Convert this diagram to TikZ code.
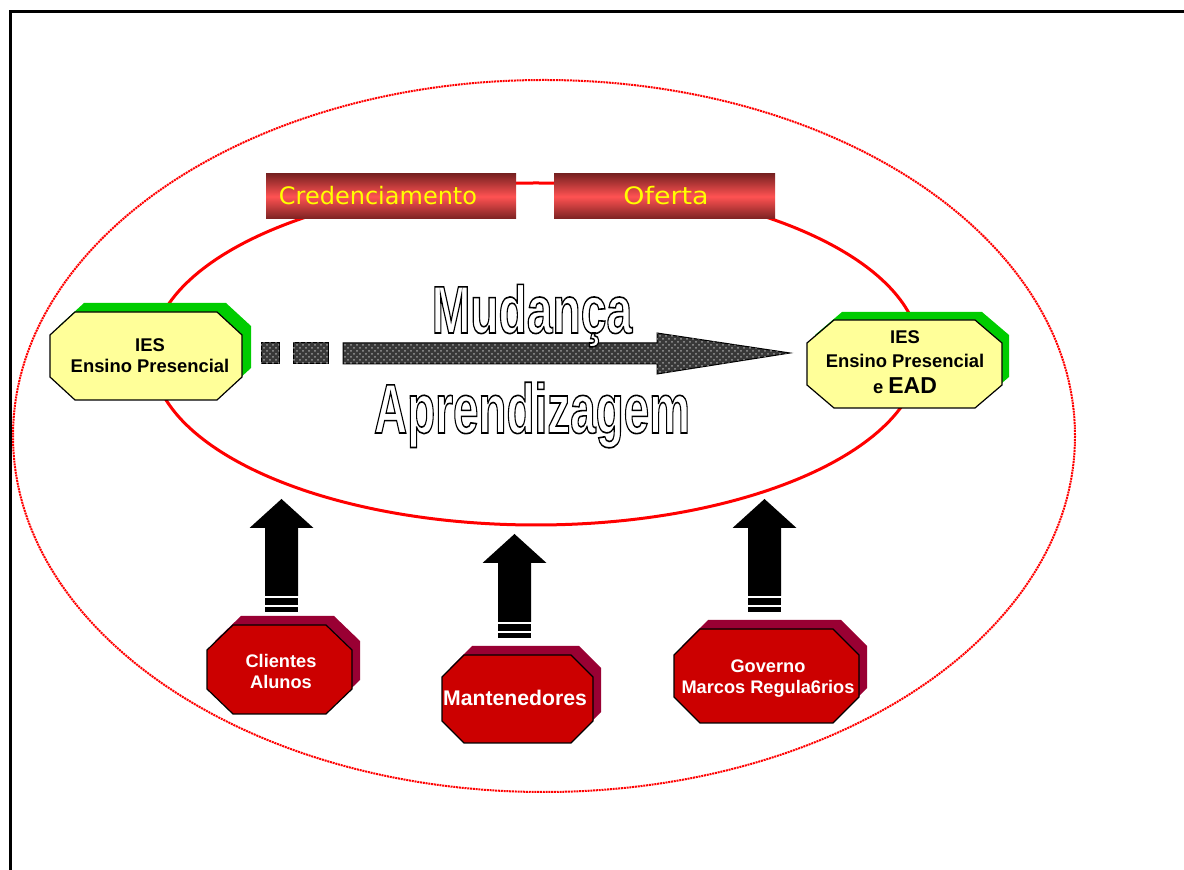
\documentclass[tikz,border=0pt]{standalone}
\usepackage{fontspec}
\usepackage{graphicx}
\setmainfont{Liberation Sans}
\newfontfamily\barfont{DejaVu Sans}
\usetikzlibrary{patterns}

\definecolor{ringred}{HTML}{FF0000}
\definecolor{paleyellow}{HTML}{FFFF99}
\definecolor{leafgreen}{HTML}{00CC00}
\definecolor{stopred}{HTML}{CC0000}
\definecolor{wine}{HTML}{990033}
\definecolor{bardark}{HTML}{7A2222}
\definecolor{barlight}{HTML}{FF5252}
\definecolor{labelyellow}{HTML}{FFFF00}

% octagon: style, x1, y1, x2, y2, corner cut x, corner cut y
\newcommand\octagonpath[7]{%
  \path[#1] ({#2+#6},#3) -- ({#4-#6},#3) -- (#4,{#3+#7}) -- (#4,{#5-#7})
    -- ({#4-#6},#5) -- ({#2+#6},#5) -- (#2,{#5-#7}) -- (#2,{#3+#7}) -- cycle;}

% striped block arrow pointing up: centre x, tip y, shaft bottom y
\newcommand\blockarrow[3]{%
  \fill[black] (#1,#2) -- ({#1+32},{#2+29}) -- ({#1+16.5},{#2+29}) -- ({#1+16.5},#3)
    -- ({#1-16.5},#3) -- ({#1-16.5},{#2+29}) -- ({#1-32},{#2+29}) -- cycle;
  \fill[black] ({#1-16.5},{#3+2}) rectangle ({#1+16.5},{#3+9});
  \fill[black] ({#1-16.5},{#3+11}) rectangle ({#1+16.5},{#3+16});}

% white letters with a black outline
\newcommand\hollowtext[1]{\special{pdf:literal direct 1 g 0 G 2 Tr 0.8 w}#1\special{pdf:literal direct 0 Tr 0 g}}

\begin{document}
\begin{tikzpicture}[x=0.5pt,y=-0.5pt,
    ring/.style={draw=ringred, line width=1pt, dash pattern=on 1pt off 0.4pt},
    loop/.style={draw=ringred, line width=1.5pt},
    barbox/.style={top color=bardark, bottom color=bardark, middle color=barlight},
    barlabel/.style={font=\barfont\fontsize{12}{14}\selectfont, text=labelyellow, inner sep=0pt},
    iesbox/.style={fill=paleyellow, draw=black, line width=0.6pt},
    iesshadow/.style={fill=leafgreen},
    actorbox/.style={fill=stopred, draw=black, line width=0.6pt},
    actorshadow/.style={fill=wine},
    ieslabel/.style={font=\fontsize{9.2}{10.5}\selectfont\bfseries, align=center, inner sep=0pt},
    actorlabel/.style={font=\fontsize{9.1}{10.5}\selectfont\bfseries, text=white, align=center, inner sep=0pt},
    trackfill/.style={fill=black!78, draw=black, line width=0.5pt,
      postaction={pattern=crosshatch dots, pattern color=black!40}},
    bigword/.style={anchor=base, inner sep=0pt}]
  \useasboundingbox (0,0) rectangle (1184,870);

  % page frame
  \draw[line width=1.5pt] (10,875) -- (10,12) -- (1190,12);

  % outer dotted ring and inner cycle
  \path[ring] (544,436) ellipse [x radius=531, y radius=356];
  \path[loop] (536,354) ellipse [x radius=384, y radius=171];

  % stage bars
  \path[barbox] (266,174) rectangle (516,219);
  \path[barbox] (554,174) rectangle (775,219);
  \node[barlabel] (cred) at (378,196) {Credenciamento};
  \node[barlabel, xscale=1.12] (oferta) at (666,196) {Oferta};

  % institution boxes
  \octagonpath{iesshadow}{59}{303}{251}{391}{25}{23}
  \octagonpath{iesbox}{50}{312}{242}{400}{25}{23}
  \node[ieslabel] (iesA) at (150,356) {IES\\Ensino Presencial};

  \octagonpath{iesshadow}{815}{312}{1009}{400}{27}{23}
  \octagonpath{iesbox}{807}{320}{1002}{408}{27}{23}
  \node[ieslabel, font=\fontsize{9.2}{12}\selectfont\bfseries] (iesB) at (905,362)
    {IES\\Ensino Presencial\\[1pt]e {\fontsize{11.5}{12}\selectfont EAD}};

  % transition arrow
  \path[trackfill] (261,343) rectangle (279,364);
  \path[trackfill] (293,343) rectangle (328,364);
  \path[trackfill] (343,343) -- (657,343) -- (657,333) -- (790,353)
    -- (657,374) -- (657,364) -- (343,364) -- cycle;

  \node[bigword, font=\fontsize{33.5}{36}\selectfont\bfseries] (mud) at (532,333)
    {\scalebox{0.69}[1]{\hollowtext{Mudança}}};
  \node[bigword, font=\fontsize{35}{38}\selectfont\bfseries] (apr) at (532,433)
    {\scalebox{0.655}[1]{\hollowtext{Aprendizagem}}};

  % driving forces
  \blockarrow{281.5}{499}{596}
  \blockarrow{514.5}{534}{622}
  \blockarrow{764.5}{499}{596}

  \octagonpath{actorshadow}{215}{616}{360}{705}{26}{25}
  \octagonpath{actorbox}{207}{625}{352}{714}{26}{25}
  \node[actorlabel] (cli) at (281,671) {Clientes\\Alunos};

  \octagonpath{actorshadow}{450}{646}{601}{734}{22}{22}
  \octagonpath{actorbox}{442}{655}{593}{743}{22}{22}
  \node[actorlabel, font=\fontsize{10.6}{12}\selectfont\bfseries] (man) at (515,698) {Mantenedores};

  \octagonpath{actorshadow}{682}{620}{867}{714}{26}{26}
  \octagonpath{actorbox}{674}{629}{859}{723}{26}{26}
  \node[actorlabel] (gov) at (768,679) {Governo\\Marcos Regula6rios};
\end{tikzpicture}
\end{document}
